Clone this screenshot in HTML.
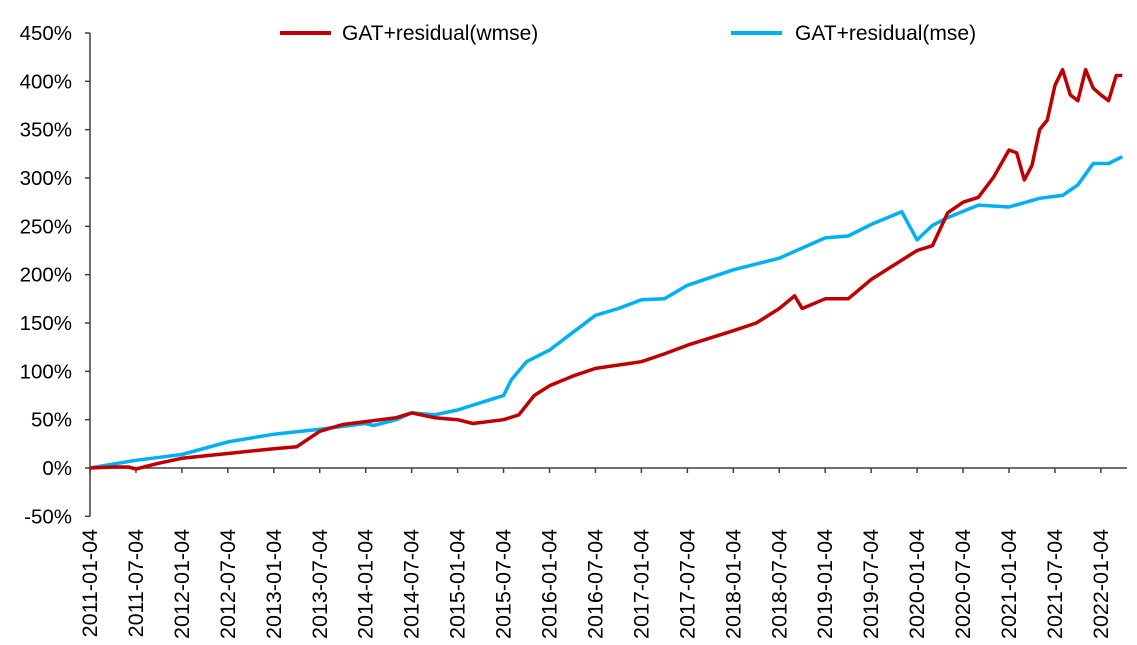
<!DOCTYPE html>
<html><head><meta charset="utf-8"><style>
html,body{margin:0;padding:0;background:#fff;}
svg{display:block;font-family:"Liberation Sans",sans-serif;}
</style></head><body>
<svg id="chart" width="1137" height="645" viewBox="0 0 1137 645">
<g id="axes"></g>
<g id="series"></g>
<g id="legend">
  <line x1="280" y1="33" x2="331" y2="33" stroke="#c00000" stroke-width="4"/>
  <text x="342" y="40" font-size="21" fill="#000">GAT+residual(wmse)</text>
  <line x1="731" y1="33" x2="782" y2="33" stroke="#00b0f0" stroke-width="4"/>
  <text x="795" y="40" font-size="21" fill="#000">GAT+residual(mse)</text>
</g>
</svg>
<script>
const yTicks=[-50,0,50,100,150,200,250,300,350,400,450];
const xTickLabels=["2011-01-04","2011-07-04","2012-01-04","2012-07-04","2013-01-04","2013-07-04","2014-01-04","2014-07-04","2015-01-04","2015-07-04","2016-01-04","2016-07-04","2017-01-04","2017-07-04","2018-01-04","2018-07-04","2019-01-04","2019-07-04","2020-01-04","2020-07-04","2021-01-04","2021-07-04","2022-01-04"];
const wmseMonths=[0,3,5,6,9,12,18,24,27,30,33,36,40,42,45,48,50,54,56,58,60,63,66,72,75,78,84,87,90,92,93,96,99,102,105,108,110,112,114,116,118,120,121,122,123,124,125,126,127,128,129,130,131,132,133,134,134.8];
const wmseValues=[0,1,1,-1,5,10,15,20,22,38,45,48,52,57,52,50,46,50,55,75,85,95,103,110,118,127,142,150,165,178,165,175,175,195,210,225,230,264,275,280,301,329,326,298,313,350,360,396,412,386,380,412,393,386,380,406,406];
const mseMonths=[0,3,6,12,18,24,30,36,37,40,42,45,48,52,54,55,57,60,63,66,69,72,75,78,84,90,96,99,102,106,108,110,112,116,120,124,127,129,131,133,134.8];
const mseValues=[0,4,8,14,27,35,40,46,44,50,57,55,60,70,75,91,110,122,140,158,165,174,175,189,205,217,238,240,252,265,236,251,259,272,270,279,282,293,315,315,322];
const NS="http://www.w3.org/2000/svg";
const X0=90, monthPx=45.95/6, Y0=468, pctPx=435/450;
const xScale=m=>X0+m*monthPx;
const yScale=v=>Y0-v*pctPx;
const axes=document.getElementById('axes');
function mk(tag,attrs,parent){const e=document.createElementNS(NS,tag);for(const k in attrs)e.setAttribute(k,attrs[k]);parent.appendChild(e);return e;}
let yl=mk('line',{x1:X0,y1:yScale(450),x2:X0,y2:yScale(-50),stroke:'#404040','stroke-width':1.5},axes);


let xl=mk('line',{x1:X0,y1:Y0,x2:1127,y2:Y0,stroke:'#404040','stroke-width':1.5},axes);


yTicks.forEach(v=>{
  const t=mk('line',{x1:X0-5,y1:yScale(v),x2:X0,y2:yScale(v),stroke:'#404040','stroke-width':1.5},axes);
  
  
  const l=mk('text',{x:72,y:yScale(v)+7,'text-anchor':'end','font-size':20.5,fill:'#000'},axes);
  
  
  l.textContent=v+'%';
});
xTickLabels.forEach((s,i)=>{
  const x=xScale(i*6);
  const t=mk('line',{x1:x,y1:Y0,x2:x,y2:Y0+5,stroke:'#404040','stroke-width':1.5},axes);
  
  
  const l=mk('text',{x:0,y:0,'text-anchor':'end','font-size':21.5,fill:'#000',transform:`translate(${x+7},529) rotate(-90)`},axes);
  
  
  l.textContent=s;
});
const series=document.getElementById('series');
function drawLine(ms,vs,color,name){
  const d=ms.map((m,i)=>(i?'L':'M')+xScale(m).toFixed(1)+','+yScale(vs[i]).toFixed(1)).join('');
  const p=mk('path',{d:d,fill:'none',stroke:color,'stroke-width':3.5,'stroke-linejoin':'round'},series);
  
  
}
drawLine(mseMonths,mseValues,'#00b0f0','line-mse');
drawLine(wmseMonths,wmseValues,'#c00000','line-wmse');
</script>
</body></html>
